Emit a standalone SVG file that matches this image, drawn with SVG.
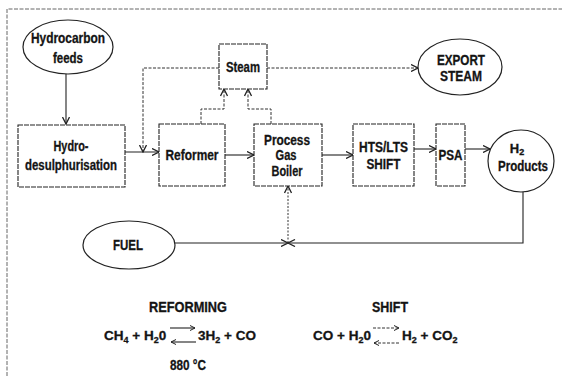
<svg xmlns="http://www.w3.org/2000/svg" width="562" height="376" viewBox="0 0 562 376">
<style>
  .t { font-family: "Liberation Sans", Arial, sans-serif; font-weight: bold; fill: #141414; stroke: #141414; stroke-width: 0.3; text-anchor: middle; }
  .m { font-size: 14px; }
  .eq { font-family: "Liberation Sans", Arial, sans-serif; font-weight: bold; fill: #141414; stroke: #141414; stroke-width: 0.3; font-size: 13.5px; }
  .sub { font-size: 9px; }
  .box { fill: #fff; stroke: #222; stroke-width: 1.1; stroke-dasharray: 5 1; }
  .ell { fill: #fff; stroke: #222; stroke-width: 1.2; }
  .ln { fill: none; stroke: #222; stroke-width: 1.1; }
  .dash { fill: none; stroke: #333; stroke-width: 1; stroke-dasharray: 3 1.5; }
  .dot { fill: none; stroke: #333; stroke-width: 1; stroke-dasharray: 2 1.5; }
  .frame { fill: none; stroke: #666; stroke-width: 1; stroke-dasharray: 4 1.5; }
</style>
<defs>
  <marker id="ah" viewBox="0 0 8 8" refX="7.5" refY="4" markerWidth="8" markerHeight="8" markerUnits="userSpaceOnUse" orient="auto">
    <path d="M0.5,0.5 L7.5,4 L0.5,7.5" fill="none" stroke="#222" stroke-width="1.3"/>
  </marker>
  <marker id="sh" viewBox="0 0 6 6" refX="5.5" refY="3" markerWidth="6" markerHeight="6" markerUnits="userSpaceOnUse" orient="auto">
    <path d="M0.5,0.5 L5.5,3 L0.5,5.5" fill="none" stroke="#222" stroke-width="1"/>
  </marker>
</defs>
<rect width="562" height="376" fill="#fff"/>
<path class="frame" d="M7,376 V9 H562"/>

<g id="connectors">
  <path class="ln" d="M66,74 V124" marker-end="url(#ah)"/>
  <path class="ln" d="M125,152 H159" marker-end="url(#ah)"/>
  <path class="dash" d="M219,68 H143 V152" marker-end="url(#ah)"/>
  <path class="dash" d="M267,68 H418" marker-end="url(#ah)"/>
  <path class="dash" d="M201,124 V109 H224 V89" marker-end="url(#ah)"/>
  <path class="dash" d="M271,124 V109 H248 V89" marker-end="url(#ah)"/>
  <path class="ln" d="M225,155 H254" marker-end="url(#ah)"/>
  <path class="ln" d="M322,155 H353" marker-end="url(#ah)"/>
  <path class="ln" d="M414,149 H436" marker-end="url(#ah)"/>
  <path class="ln" d="M465,149 H490" marker-end="url(#ah)"/>
  <path class="ln" d="M175,243 H288" marker-end="url(#ah)"/>
  <path class="ln" d="M523,192 V243 H288" marker-end="url(#ah)"/>
  <path class="dot" d="M288,243 V186" marker-end="url(#ah)"/>
</g>

<g id="hydrocarbon-feeds">
  <ellipse class="ell" cx="68" cy="47" rx="45" ry="27"/>
  <text class="t m" x="68" y="43" textLength="74" lengthAdjust="spacingAndGlyphs">Hydrocarbon</text>
  <text class="t m" x="68" y="63" textLength="30" lengthAdjust="spacingAndGlyphs">feeds</text>
</g>

<g id="hydrodesulphurisation">
  <rect class="box" x="18" y="125" width="107" height="62"/>
  <text class="t m" x="71" y="151" textLength="35" lengthAdjust="spacingAndGlyphs">Hydro-</text>
  <text class="t m" x="71" y="170" textLength="92" lengthAdjust="spacingAndGlyphs">desulphurisation</text>
</g>

<g id="reformer">
  <rect class="box" x="159" y="124" width="66" height="62"/>
  <text class="t m" x="192" y="160" textLength="53" lengthAdjust="spacingAndGlyphs">Reformer</text>
</g>

<g id="steam">
  <rect class="box" x="219" y="44" width="48" height="45"/>
  <text class="t m" x="243" y="72" textLength="34" lengthAdjust="spacingAndGlyphs">Steam</text>
</g>

<g id="export-steam">
  <ellipse class="ell" cx="460" cy="67" rx="42" ry="28"/>
  <text class="t m" x="461" y="65" textLength="48" lengthAdjust="spacingAndGlyphs">EXPORT</text>
  <text class="t m" x="461" y="81" textLength="42" lengthAdjust="spacingAndGlyphs">STEAM</text>
</g>

<g id="process-gas-boiler">
  <rect class="box" x="254" y="124" width="68" height="62"/>
  <text class="t m" x="287" y="145" textLength="46" lengthAdjust="spacingAndGlyphs">Process</text>
  <text class="t m" x="286" y="160" textLength="21" lengthAdjust="spacingAndGlyphs">Gas</text>
  <text class="t m" x="287" y="176" textLength="31" lengthAdjust="spacingAndGlyphs">Boiler</text>
</g>

<g id="hts-lts-shift">
  <rect class="box" x="353" y="124" width="61" height="62"/>
  <text class="t m" x="383.5" y="152" textLength="49" lengthAdjust="spacingAndGlyphs">HTS/LTS</text>
  <text class="t m" x="383.5" y="169" textLength="34" lengthAdjust="spacingAndGlyphs">SHIFT</text>
</g>

<g id="psa">
  <rect class="box" x="436" y="124" width="29" height="62"/>
  <text class="t m" x="450.5" y="160" textLength="24" lengthAdjust="spacingAndGlyphs">PSA</text>
</g>

<g id="h2-products">
  <ellipse class="ell" cx="521" cy="161" rx="33" ry="31"/>
  <text class="t" x="517" y="153" font-size="13">H<tspan class="sub" dy="2">2</tspan></text>
  <text class="t m" x="523" y="171" textLength="50" lengthAdjust="spacingAndGlyphs">Products</text>
</g>

<g id="fuel">
  <ellipse class="ell" cx="129" cy="245" rx="46" ry="24"/>
  <text class="t m" x="128" y="250" textLength="30" lengthAdjust="spacingAndGlyphs">FUEL</text>
</g>

<g id="reforming-equation">
  <text class="t m" x="188" y="312" textLength="78" lengthAdjust="spacingAndGlyphs">REFORMING</text>
  <text class="eq" x="104" y="340">CH<tspan class="sub" dy="3">4</tspan><tspan dy="-3"> + H</tspan><tspan class="sub" dy="3">2</tspan><tspan dy="-3">0</tspan></text>
  <path class="ln" d="M170,328 H195" marker-end="url(#sh)"/>
  <path class="ln" d="M196,342 H171" marker-end="url(#sh)"/>
  <text class="eq" x="198" y="340">3H<tspan class="sub" dy="3">2</tspan><tspan dy="-3"> + CO</tspan></text>
  <text class="t m" x="188" y="370" textLength="36" lengthAdjust="spacingAndGlyphs">880 °C</text>
</g>

<g id="shift-equation">
  <text class="t m" x="390" y="312" textLength="36" lengthAdjust="spacingAndGlyphs">SHIFT</text>
  <text class="eq" x="313" y="340">CO + H<tspan class="sub" dy="3">2</tspan><tspan dy="-3">0</tspan></text>
  <path class="dash" d="M373,328 H399" marker-end="url(#sh)"/>
  <path class="dash" d="M399,343 H374" marker-end="url(#sh)"/>
  <text class="eq" x="402" y="340">H<tspan class="sub" dy="3">2</tspan><tspan dy="-3"> + CO</tspan><tspan class="sub" dy="3">2</tspan></text>
</g>
</svg>
